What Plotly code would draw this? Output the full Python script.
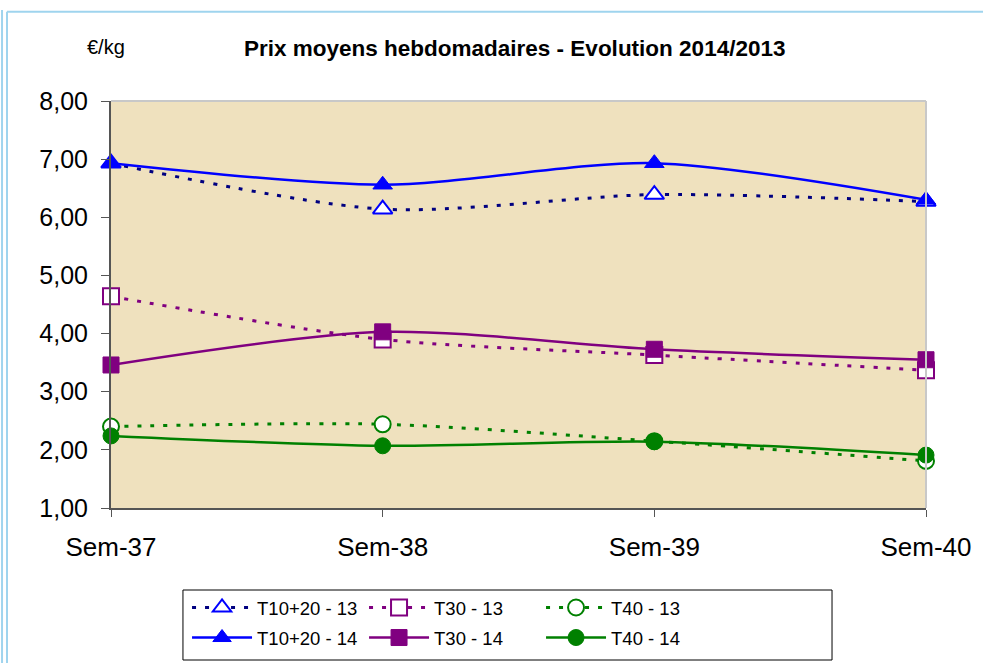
import plotly.graph_objects as go

weeks = ["Sem-37", "Sem-38", "Sem-39", "Sem-40"]
t1020_13 = [6.93, 6.14, 6.39, 6.27]
t30_13 = [4.64, 3.90, 3.63, 3.37]
t40_13 = [2.40, 2.44, 2.15, 1.81]
t1020_14 = [6.93, 6.56, 6.93, 6.30]
t30_14 = [3.46, 4.03, 3.73, 3.55]
t40_14 = [2.24, 2.07, 2.14, 1.91]

series = [
    ("T10+20 - 13", t1020_13, "#000080", "#0000FF", "triangle-up", True, 17, "legend"),
    ("T30 - 13", t30_13, "#800080", "#800080", "square", True, 16, "legend"),
    ("T40 - 13", t40_13, "#008000", "#008000", "circle", True, 16, "legend"),
    ("T10+20 - 14", t1020_14, "#0000FF", "#0000FF", "triangle-up", False, 17, "legend2"),
    ("T30 - 14", t30_14, "#800080", "#800080", "square", False, 16, "legend2"),
    ("T40 - 14", t40_14, "#008000", "#008000", "circle", False, 16, "legend2"),
]

fig = go.Figure()
for name, vals, lc, mc, sym, dashed, size, lg in series:
    if dashed:
        marker = dict(symbol=sym, size=size, color="white", line=dict(color=mc, width=2))
        line = dict(color=lc, width=3, dash="4px,9px", shape="spline", smoothing=0.8)
    else:
        marker = dict(symbol=sym, size=size, color=mc, line=dict(color=mc, width=1))
        line = dict(color=lc, width=2.5, shape="spline", smoothing=0.8)
    fig.add_trace(go.Scatter(x=weeks, y=vals, name=name, mode="lines+markers",
                             line=line, marker=marker, cliponaxis=False, legend=lg))

leg_common = dict(orientation="h", x=0.0933, xanchor="left", yanchor="middle",
                  yref="container", borderwidth=0, bgcolor="rgba(0,0,0,0)",
                  font=dict(size=18.5), itemwidth=60, entrywidth=102, traceorder="normal")

fig.update_layout(
    width=983, height=663,
    margin=dict(l=111, r=57, t=101, b=155, autoexpand=False),
    paper_bgcolor="white",
    plot_bgcolor="#EFE1BE",
    separators=", ",
    font=dict(family="Liberation Sans, Arial, sans-serif", color="black"),
    showlegend=True,
    legend=dict(y=0.0830, **leg_common),
    legend2=dict(y=0.0377, **leg_common),
    annotations=[
        dict(text="<b>Prix moyens hebdomadaires - Evolution 2014/2013</b>", xref="paper", yref="paper",
             x=0.4945, y=1.0, yshift=53, xanchor="center", yanchor="middle", showarrow=False,
             font=dict(size=22.5)),
        dict(text="€/kg", xref="paper", yref="paper", x=0.0196, y=1.0, yshift=54,
             xanchor="right", yanchor="middle", showarrow=False, font=dict(size=20)),
    ],
    shapes=[
        dict(type="line", xref="paper", yref="paper", x0=0, x1=1, y0=1, y1=1,
             line=dict(color="#C8C8C8", width=2)),
        dict(type="line", xref="paper", yref="paper", x0=1, x1=1, y0=0, y1=1,
             line=dict(color="#C8C8C8", width=2)),
        dict(type="line", xref="paper", yref="paper", x0=-0.1337, x1=-0.1337, y0=-0.40, y1=1.2236,
             line=dict(color="#9FD4EE", width=2)),
        dict(type="line", xref="paper", yref="paper", x0=-0.1276, x1=-0.1276, y0=-0.40, y1=1.2194,
             line=dict(color="#9FD4EE", width=2)),
        dict(type="line", xref="paper", yref="paper", x0=-0.1276, x1=1.08, y0=1.2194, y1=1.2194,
             line=dict(color="#9FD4EE", width=2)),
        dict(type="rect", xref="paper", yref="paper", x0=0.0883, x1=0.8847, y0=-0.3735, y1=-0.2015,
             line=dict(color="black", width=1)),
    ],
)
fig.update_xaxes(type="category", range=[0, 3], showgrid=False, showline=True,
                 linecolor="#555555", linewidth=2, ticks="outside", ticklen=7,
                 tickcolor="#555555", tickfont=dict(size=26), zeroline=False,
                 ticklabelstandoff=8)
fig.update_yaxes(range=[1, 8], dtick=1, tickformat=".2f", showgrid=False, showline=True,
                 linecolor="#555555", linewidth=2, ticks="outside", ticklen=8,
                 tickcolor="#555555", tickfont=dict(size=25), zeroline=False,
                 ticklabelstandoff=8)

fig.write_html("out.html", config={"displayModeBar": False},
               post_script="document.body.style.margin='0px';")
